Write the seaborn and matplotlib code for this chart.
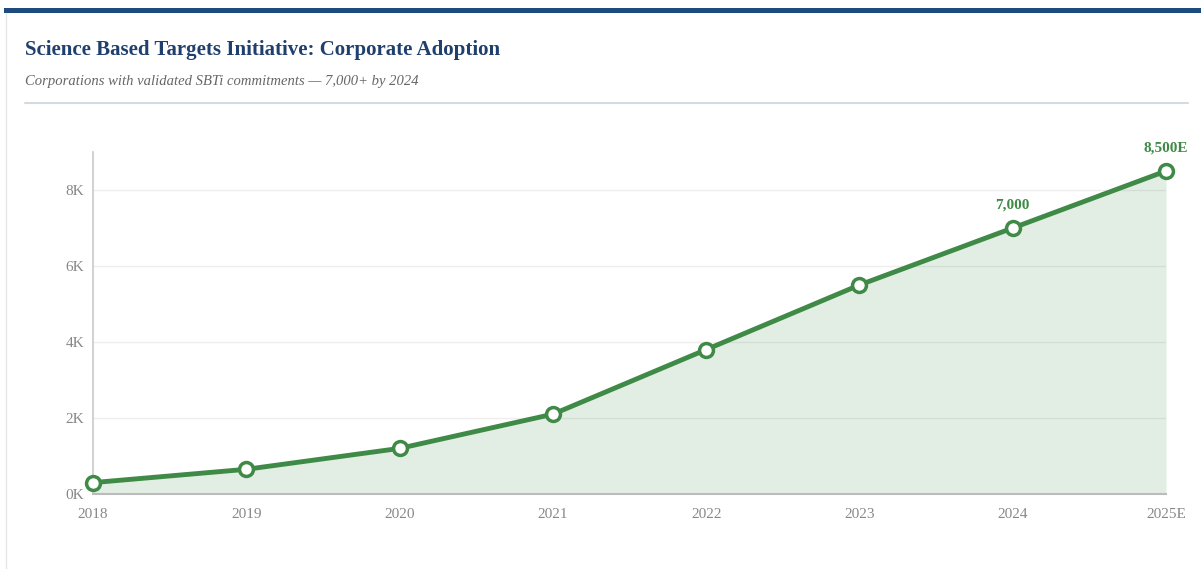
import numpy as np
import pandas as pd
import matplotlib
matplotlib.use("Agg")
import matplotlib.pyplot as plt
import seaborn as sns
from matplotlib.patches import Rectangle
from matplotlib.lines import Line2D

years = ["2018", "2019", "2020", "2021", "2022", "2023", "2024", "2025E"]
companies = [300, 650, 1200, 2100, 3800, 5500, 7000, 8500]
labelled = {"2024": "7,000", "2025E": "8,500E"}

GREEN = "#3f8a46"
NAVY = "#1f3f6e"

sns.set_theme(style="white")
plt.rcParams["font.family"] = ["Liberation Serif", "DejaVu Serif"]

df = pd.DataFrame({"pos": np.arange(len(years)), "year": years, "n": companies})

fig = plt.figure(figsize=(12.01, 5.69), dpi=100)
ax = fig.add_axes([0.0774, 0.1318, 0.8935, 0.6011])

ax.fill_between(df["pos"], df["n"], 0, color=GREEN, alpha=0.15, linewidth=0)
sns.lineplot(data=df, x="pos", y="n", ax=ax, color=GREEN, linewidth=3.5,
             marker="o", markersize=10, markerfacecolor="white",
             markeredgecolor=GREEN, markeredgewidth=2.5, zorder=5, clip_on=False)

# value labels only on the last two points
for _, r in df.iterrows():
    if r["year"] in labelled:
        ax.annotate(labelled[r["year"]], (r["pos"], r["n"]), xytext=(0, 12),
                    textcoords="offset points", ha="center", va="bottom",
                    color=GREEN, fontsize=11, fontweight="bold")

ax.set_xlim(0, len(years) - 1)
ax.set_ylim(0, 9000)
ax.set_xticks(df["pos"])
ax.set_xticklabels(years)
ax.set_yticks([0, 2000, 4000, 6000, 8000])
ax.set_yticklabels(["0K", "2K", "4K", "6K", "8K"])
ax.tick_params(axis="both", length=0, colors="#888888", labelsize=11)
ax.tick_params(axis="x", pad=10)
ax.tick_params(axis="y", pad=6)
ax.yaxis.grid(True, color="#eeeeee", linewidth=1)
ax.set_axisbelow(True)
ax.set_xlabel("")
ax.set_ylabel("")
for s in ["top", "right"]:
    ax.spines[s].set_visible(False)
ax.spines["left"].set_color("#cccccc")
ax.spines["bottom"].set_color("#bbbbbb")
ax.spines["bottom"].set_linewidth(1.5)

# header bar, card border, title block
fig.add_artist(Rectangle((0.003, 1 - 13 / 569), 0.997, 5 / 569,
                         transform=fig.transFigure, color="#1f4a80", lw=0))
fig.add_artist(Line2D([0.005, 0.005], [0, 1 - 13 / 569], transform=fig.transFigure,
                      color="#e6e6e6", lw=1))
fig.text(25 / 1201, 1 - 50 / 569, "Science Based Targets Initiative: Corporate Adoption",
         color=NAVY, fontsize=15, fontweight="bold", va="center")
fig.text(25 / 1201, 1 - 81 / 569, "Corporations with validated SBTi commitments \u2014 7,000+ by 2024",
         color="#666666", fontsize=10.5, style="italic", va="center")
fig.add_artist(Line2D([25 / 1201, 1188 / 1201], [1 - 103 / 569] * 2, transform=fig.transFigure,
                      color="#d5d9e0", lw=1.5))

fig.savefig("out.png", dpi=100)
